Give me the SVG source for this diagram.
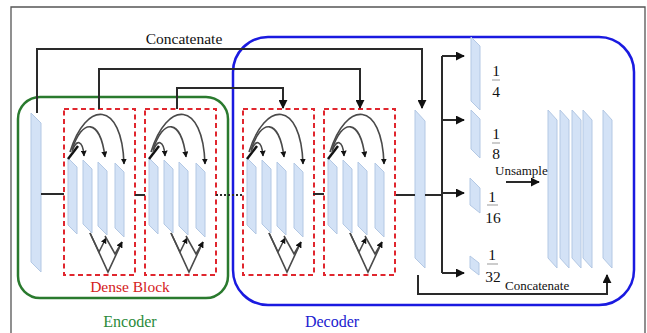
<svg xmlns="http://www.w3.org/2000/svg" xmlns:xlink="http://www.w3.org/1999/xlink" width="647" height="333" viewBox="0 0 647 333">
<style>
.bar{fill:#d3e2f6;stroke:#b3c8e4;stroke-width:1}
.conn{fill:none;stroke:#2a2a2a;stroke-width:2}
.arc{fill:none;stroke:#4a4a4a;stroke-width:1.6}
.dense{fill:none;stroke:#e0262e;stroke-width:2;stroke-dasharray:5 3.5}
.t{font-family:"Liberation Serif","Times New Roman",serif;fill:#111}
.frac{stroke:#999;stroke-width:1}
</style>
<defs>
<marker id="ah" viewBox="0 0 10 10" refX="9" refY="5" markerWidth="9" markerHeight="9" markerUnits="userSpaceOnUse" orient="auto">
<path d="M0,0 L10,5 L0,10 Z" fill="#111"/>
</marker>
<marker id="as" viewBox="0 0 10 10" refX="9" refY="5" markerWidth="6" markerHeight="6" markerUnits="userSpaceOnUse" orient="auto">
<path d="M0,0 L10,5 L0,10 Z" fill="#111"/>
</marker>
<g id="denseInner">
<rect class="dense" x="0" y="0" width="71" height="166"/>
<polygon class="bar" points="4,49 13,58 13,125 4,116"/>
<polygon class="bar" points="19,51 28,60 28,124 19,115"/>
<polygon class="bar" points="34,53 43,62 43,126 34,117"/>
<polygon class="bar" points="51,54 60,63 60,128 51,119"/>
<path d="M4,50 L14,37" stroke="#111" stroke-width="2.5" fill="none"/>
<path class="arc" d="M8,43 C12,29 19,31 20,47" marker-end="url(#as)"/>
<path class="arc" d="M8,41 C18,9 36,9 41,48" marker-end="url(#as)"/>
<path class="arc" d="M6,43 C22,-9 58,-9 60,55" marker-end="url(#as)"/>
<path class="arc" d="M26,124 L35,143 L42,129" marker-end="url(#as)"/>
<path class="arc" d="M26,124 L44,163 L58,133" marker-end="url(#as)"/>
<path class="arc" d="M41,127 L51,145 L58,133" marker-end="url(#as)"/>
</g>
</defs>
<rect x="0" y="0" width="647" height="333" fill="#fff"/>
<path d="M11,333 V7 H645 V333" fill="none" stroke="#555" stroke-width="1.3"/>

<g id="encoder">
<rect x="18" y="97" width="210" height="201" rx="22" fill="none" stroke="#2a7a2e" stroke-width="2.5"/>
<text class="t" x="130" y="327" font-size="16" text-anchor="middle" style="fill:#2a8a3a">Encoder</text>
</g>
<g id="decoder">
<rect x="233" y="37" width="401" height="268" rx="35" fill="none" stroke="#1a1ae0" stroke-width="2.5"/>
<text class="t" x="332" y="327" font-size="16" text-anchor="middle" style="fill:#2020d0">Decoder</text>
</g>

<g id="input-bar">
<polygon class="bar" points="31,113 41,123 41,272 31,262"/>
</g>
<g id="dense1"><use xlink:href="#denseInner" href="#denseInner" x="64" y="109"/></g>
<g id="dense2"><use xlink:href="#denseInner" href="#denseInner" x="145" y="109"/></g>
<g id="dense3"><use xlink:href="#denseInner" href="#denseInner" x="243" y="109"/></g>
<g id="dense4"><use xlink:href="#denseInner" href="#denseInner" x="324" y="109"/></g>
<text class="t" x="130" y="292" font-size="15.5" text-anchor="middle" style="fill:#d42020">Dense Block</text>

<g id="decoder-bar">
<polygon class="bar" points="415,110 425,121 425,268 415,258"/>
</g>
<g id="scale4">
<polygon class="bar" points="471,37 480,46 480,110 471,101"/>
<text class="t" x="496" y="76" font-size="15.5" text-anchor="middle">1</text>
<line class="frac" x1="492" y1="80" x2="500" y2="80"/>
<text class="t" x="496" y="97" font-size="15.5" text-anchor="middle">4</text>
</g>
<g id="scale8">
<polygon class="bar" points="471,110 480,119 480,158 471,149"/>
<text class="t" x="496" y="139" font-size="15.5" text-anchor="middle">1</text>
<line class="frac" x1="492" y1="143" x2="500" y2="143"/>
<text class="t" x="496" y="159" font-size="15.5" text-anchor="middle">8</text>
</g>
<g id="scale16">
<polygon class="bar" points="470,178 480,188 480,213 470,205"/>
<text class="t" x="492" y="202" font-size="15.5" text-anchor="middle">1</text>
<line class="frac" x1="487" y1="205" x2="498" y2="205"/>
<text class="t" x="493" y="223" font-size="15.5" text-anchor="middle">16</text>
</g>
<g id="scale32">
<polygon class="bar" points="470,256 479,263 479,275 470,268"/>
<text class="t" x="492" y="260" font-size="15.5" text-anchor="middle">1</text>
<line class="frac" x1="487" y1="264" x2="498" y2="264"/>
<text class="t" x="493" y="282" font-size="15.5" text-anchor="middle">32</text>
</g>
<g id="output-stack">
<polygon class="bar" points="548,110 557,120 557,268 548,258"/>
<polygon class="bar" points="560,110 569,120 569,268 560,258"/>
<polygon class="bar" points="572,110 581,120 581,268 572,258"/>
<polygon class="bar" points="583,110 592,120 592,268 583,258"/>
<polygon class="bar" points="603,110 612,120 612,268 603,258"/>
</g>

<g id="connectors">
<path class="conn" d="M37,113 V49 H422 V108" marker-end="url(#ah)"/>
<path class="conn" d="M99,109 V69 H360 V108" marker-end="url(#ah)"/>
<path class="conn" d="M177,109 V88 H283 V108" marker-end="url(#ah)"/>
<path class="conn" d="M41,194 H64"/>
<path class="conn" d="M135,195 H145"/>
<path class="conn" d="M216,195 H243" stroke-dasharray="2 2" stroke-width="1.6"/>
<path class="conn" d="M313,194 H324"/>
<path class="conn" d="M396,195 H415"/>
<path class="conn" d="M425,195 H442"/>
<path class="conn" d="M442,56 V273"/>
<path class="conn" d="M442,56 H464" marker-end="url(#ah)"/>
<path class="conn" d="M442,120 H464" marker-end="url(#ah)"/>
<path class="conn" d="M442,193 H464" marker-end="url(#ah)"/>
<path class="conn" d="M442,273 H464" marker-end="url(#ah)"/>
<path class="conn" d="M506,182 H539" marker-end="url(#ah)"/>
<path class="conn" d="M418,275 V294 H607 V275" marker-end="url(#ah)"/>
</g>
<text class="t" x="495" y="175" font-size="13">Unsample</text>
<text class="t" x="184" y="44" font-size="15.5" text-anchor="middle">Concatenate</text>
<text class="t" x="505" y="290" font-size="13">Concatenate</text>
</svg>
